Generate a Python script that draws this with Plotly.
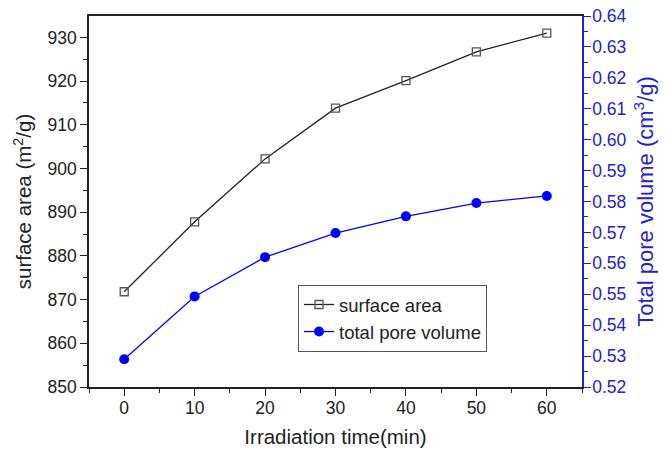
import plotly.graph_objects as go

time_min = [0, 10, 20, 30, 40, 50, 60]
surface_area = [871.8, 887.8, 902.2, 913.8, 920.1, 926.7, 931.0]
pore_volume = [0.529, 0.5493, 0.5620, 0.5698, 0.5752, 0.5795, 0.5818]

BLUE = "#0000ff"
AXBLUE = "#2222cc"
FONT = "Liberation Sans, Arial, sans-serif"
TICK = 17.5
TITLE = 20.5

fig = go.Figure()
fig.add_trace(go.Scatter(
    x=time_min, y=surface_area, name="surface area", mode="lines+markers",
    line=dict(color="#222222", width=1.3),
    marker=dict(symbol="square-open", size=8, color="#555555", line=dict(width=1.3)),
    yaxis="y"))
fig.add_trace(go.Scatter(
    x=time_min, y=pore_volume, name="total pore volume", mode="lines+markers",
    line=dict(color=BLUE, width=1.3),
    marker=dict(symbol="circle", size=10, color=BLUE),
    yaxis="y2"))
fig.add_trace(go.Scatter(x=[None], y=[None], xaxis="x2", showlegend=False, hoverinfo="skip"))

fig.update_layout(
    width=669, height=454,
    margin=dict(l=89, r=87, t=16, b=67),
    paper_bgcolor="white", plot_bgcolor="white",
    font=dict(family=FONT, size=16, color="#222222"),
    showlegend=True,
    legend=dict(x=0.424, y=0.275, xanchor="left", yanchor="top",
                bordercolor="#555555", borderwidth=1, bgcolor="white",
                font=dict(size=18.5, color="#222222"), tracegroupgap=0,
                itemwidth=30),
    xaxis=dict(range=[-5, 65], tickvals=[0, 10, 20, 30, 40, 50, 60],
               ticks="outside", ticklen=7, tickwidth=1.2, tickcolor="#222222",
               minor=dict(dtick=5, tick0=5, ticks="outside", ticklen=4, tickcolor="#222222"),
               showline=True, linecolor="#222222", linewidth=1.5, mirror=False,
               showgrid=False, zeroline=False, ticklabelstandoff=-3, automargin=False,
               title=dict(text="Irradiation time(min)", font=dict(size=TITLE), standoff=13),
               tickfont=dict(size=TICK)),
    xaxis2=dict(overlaying="x", side="top", range=[-5, 65], showline=True,
                linecolor="#222222", linewidth=1.5, showticklabels=False,
                ticks="", showgrid=False, zeroline=False),
    yaxis=dict(range=[850, 934.9], tickvals=[850, 860, 870, 880, 890, 900, 910, 920, 930],
               ticks="outside", ticklen=7, tickwidth=1.2, tickcolor="#222222",
               minor=dict(dtick=5, tick0=855, ticks="outside", ticklen=4, tickcolor="#222222"),
               showline=True, linecolor="#222222", linewidth=1.5,
               showgrid=False, zeroline=False, automargin=False,
               title=dict(text="surface area (m<sup>2</sup>/g)", font=dict(size=TITLE), standoff=10),
               tickfont=dict(size=TICK)),
    yaxis2=dict(overlaying="y", side="right", range=[0.52, 0.64],
                tickvals=[0.52, 0.53, 0.54, 0.55, 0.56, 0.57, 0.58, 0.59, 0.60, 0.61, 0.62, 0.63, 0.64],
                tickformat=".2f",
                ticks="outside", ticklen=7, tickwidth=1.2, tickcolor=AXBLUE,
                minor=dict(dtick=0.005, tick0=0.525, ticks="outside", ticklen=4, tickcolor=AXBLUE),
                showline=True, linecolor=AXBLUE, linewidth=1.5,
                showgrid=False, zeroline=False, ticklabelstandoff=-2, automargin=False,
                title=dict(text="Total pore volume (cm<sup>3</sup>/g)", font=dict(size=22, color=AXBLUE), standoff=12),
                tickfont=dict(size=TICK, color=AXBLUE)),
)

fig.write_html("out.html")
